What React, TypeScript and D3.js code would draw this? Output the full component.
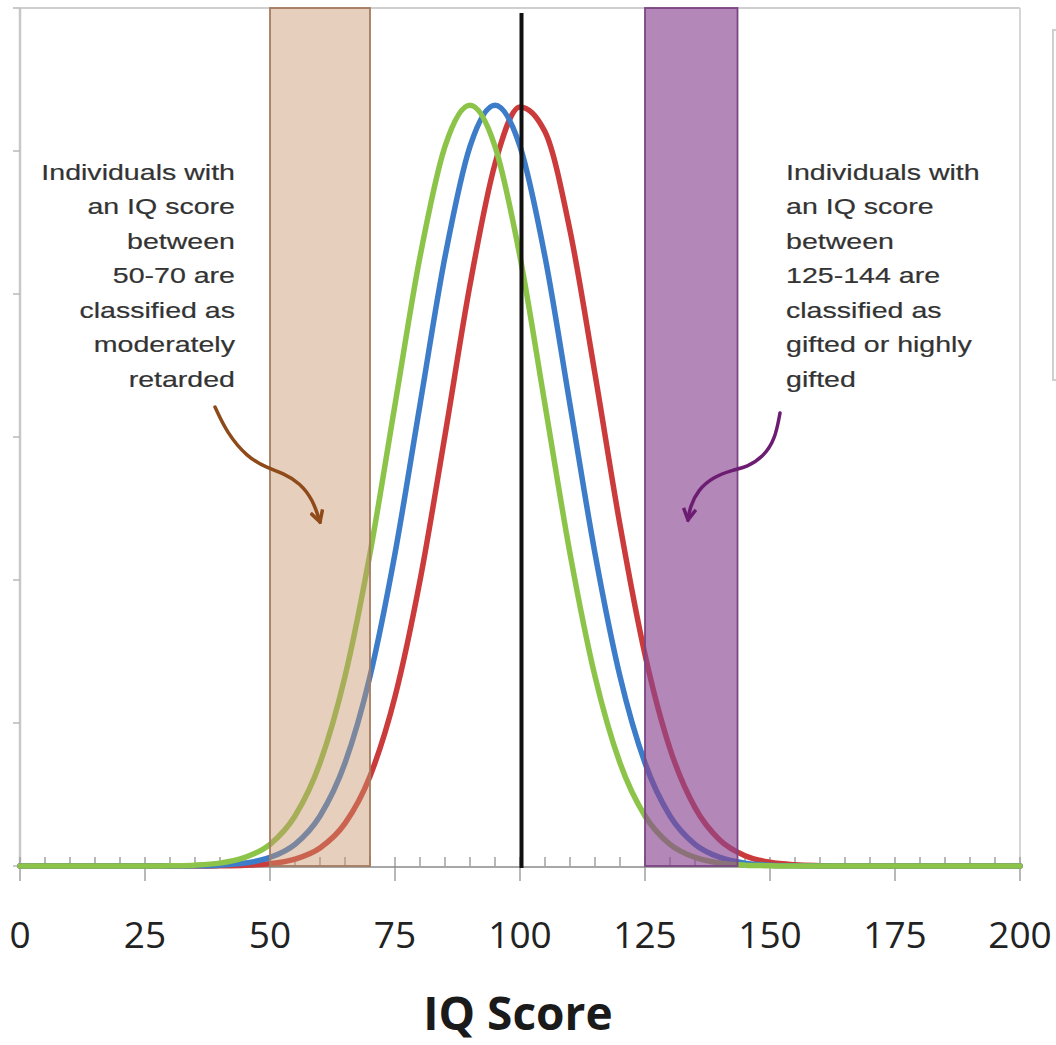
import React from "react";
import { scaleLinear, line, curveMonotoneX, curveBasis, range } from "d3";

// IQ score grid (x) and density for each group
const iqGrid = [
  0, 5, 10, 15, 20, 25, 30, 35, 40, 45, 50, 55, 60, 65, 70, 75, 80, 85, 90, 95, 100,
  105, 110, 115, 120, 125, 130, 135, 140, 145, 150, 155, 160, 165, 170, 175, 180, 185, 190, 195, 200,
];
const greenDensity = [
  0, 0, 0, 0, 0, 0, 0.00001, 0.00003, 0.0001, 0.0003, 0.00076, 0.00175, 0.0036, 0.00663, 0.01093,
  0.01613, 0.0213, 0.02516, 0.0266, 0.02516, 0.0213, 0.01613, 0.01093, 0.00663, 0.0036, 0.00175,
  0.00076, 0.0003, 0.0001, 0.00003, 0.00001, 0, 0, 0, 0, 0, 0, 0, 0, 0, 0,
];
const blueDensity = [
  0, 0, 0, 0, 0, 0, 0, 0.00001, 0.00003, 0.0001, 0.0003, 0.00076, 0.00175, 0.0036, 0.00663,
  0.01093, 0.01613, 0.0213, 0.02516, 0.0266, 0.02516, 0.0213, 0.01613, 0.01093, 0.00663, 0.0036,
  0.00175, 0.00076, 0.0003, 0.0001, 0.00003, 0.00001, 0, 0, 0, 0, 0, 0, 0, 0, 0,
];
const redDensity = [
  0, 0, 0, 0, 0, 0, 0, 0, 0.00001, 0.00003, 0.00008, 0.00024, 0.00063, 0.00149, 0.00314,
  0.00592, 0.00998, 0.01506, 0.02032, 0.02455, 0.02654, 0.02567, 0.02222, 0.0172, 0.01192,
  0.00739, 0.0041, 0.00204, 0.0009, 0.00036, 0.00013, 0.00004, 0.00001, 0, 0, 0, 0, 0, 0, 0, 0,
];

const xTicks = [0, 25, 50, 75, 100, 125, 150, 175, 200];
const yTicks = [0, 0.005, 0.01, 0.015, 0.02, 0.025, 0.03];
const meanLine = 100;
const lowBand = [50, 70];
const highBand = [125, 143.5];

const leftNote = ["Individuals with", "an IQ score", "between", "50-70 are", "classified as", "moderately", "retarded"];
const rightNote = ["Individuals with", "an IQ score", "between", "125-144 are", "classified as", "gifted or highly", "gifted"];
const leftArrow = [
  [39, 0.01605], [41.4, 0.01514], [45.4, 0.0143], [49.4, 0.01392], [52.6, 0.01374],
  [56, 0.01339], [58.6, 0.0128], [60, 0.01203],
];
const rightArrow = [
  [152, 0.01584], [151, 0.0149], [148.6, 0.0143], [145.4, 0.01395], [142.6, 0.01385],
  [138.6, 0.0136], [135.6, 0.01315], [134, 0.01255], [133.6, 0.0121],
];

const W = 1056;
const H = 1045;

const x = scaleLinear().domain([0, 200]).range([20, 1020]);
const y = scaleLinear().domain([0, 0.03]).range([866, 8]);

const curve = line<number>()
  .x((_, i) => x(iqGrid[i]))
  .y(d => y(d))
  .curve(curveMonotoneX);

const arrowLine = line<number[]>()
  .x(d => x(d[0]))
  .y(d => y(d[1]))
  .curve(curveBasis);

const series = [
  { name: "red", values: redDensity, color: "#cc3b3b" },
  { name: "blue", values: blueDensity, color: "#3c7cc8" },
  { name: "green", values: greenDensity, color: "#8cc44a" },
];

function Note({ lines, ax, ay, anchor }) {
  return (
    <g transform={`translate(${x(ax)},${y(ay)}) scale(1.27,1)`}>
      {lines.map((t, i) => (
        <text key={i} x={0} y={i * 34.5} textAnchor={anchor} fontSize={22.5}
          fontFamily="'Liberation Sans', Arial, sans-serif" fill="#333"
          stroke="#333" strokeWidth={0.2}>{t}</text>
      ))}
    </g>
  );
}

export default function App() {
  const minor = range(0, 201, 5);
  return (
    <>
      <style>{`body{margin:0;background:#fff}`}</style>
      <svg width={W} height={H} style={{ display: "block" }}>
        <defs>
          <marker id="headBrown" viewBox="0 0 12 12" refX="10" refY="6" markerWidth="15" markerHeight="15"
            markerUnits="userSpaceOnUse" orient="auto">
            <path d="M1,1 L10,6 L1,11" fill="none" stroke="#8e4a18" strokeWidth={2.8} />
          </marker>
          <marker id="headPurple" viewBox="0 0 12 12" refX="10" refY="6" markerWidth="15" markerHeight="15"
            markerUnits="userSpaceOnUse" orient="auto">
            <path d="M1,1 L10,6 L1,11" fill="none" stroke="#6c1d72" strokeWidth={2.8} />
          </marker>
        </defs>
        <rect width={W} height={H} fill="#fff" />

        {/* plot frame */}
        <line x1={x(0)} x2={x(200)} y1={y(0.03)} y2={y(0.03)} stroke="#cfcfcf" strokeWidth={2} />
        <line x1={x(200)} x2={x(200)} y1={y(0.03)} y2={y(0)} stroke="#d6d6d6" strokeWidth={2} />
        <line x1={x(0)} x2={x(0)} y1={y(0.03)} y2={y(0)} stroke="#c8c8c8" strokeWidth={2.5} />
        {yTicks.map(t => (
          <line key={t} x1={x(0) - 7} x2={x(0)} y1={y(t)} y2={y(t)} stroke="#b8b8b8" strokeWidth={1.5} />
        ))}
        {/* legend box fragment at right edge */}
        <rect x={1053} y={30} width={20} height={350} fill="none" stroke="#cfcfcf" strokeWidth={2} />

        {/* x axis */}
        {minor.map(t => (
          <line key={t} x1={x(t)} x2={x(t)} y1={y(0) - 9}
            y2={t % 25 === 0 ? y(0) + 15 : y(0)} stroke="#a0a0a0" strokeWidth={1.5} />
        ))}
        <line x1={x(0)} x2={x(200)} y1={y(0) + 1} y2={y(0) + 1} stroke="#8a8a8a" strokeWidth={1.5} />

        {/* curves */}
        {series.map(s => (
          <path key={s.name} d={curve(s.values)} fill="none" stroke={s.color} strokeWidth={5.5}
            strokeLinecap="round" strokeLinejoin="round" />
        ))}

        {/* bands */}
        <rect x={x(lowBand[0])} y={y(0.03)} width={x(lowBand[1]) - x(lowBand[0])} height={y(0) - y(0.03)}
          fill="#c8956a" fillOpacity={0.45} stroke="#a57b60" strokeWidth={1.8} />
        <rect x={x(highBand[0])} y={y(0.03)} width={x(highBand[1]) - x(highBand[0])} height={y(0) - y(0.03)}
          fill="#8b4792" fillOpacity={0.65} stroke="#7a4582" strokeWidth={1.8} />

        {/* mean line */}
        <line x1={x(meanLine) + 1.5} x2={x(meanLine) + 1.5} y1={13} y2={y(0) + 2} stroke="#111" strokeWidth={4} />

        {/* annotations */}
        <Note lines={leftNote} ax={43} ay={0.024} anchor="end" />
        <Note lines={rightNote} ax={153.2} ay={0.024} anchor="start" />
        <path d={arrowLine(leftArrow)} fill="none" stroke="#8e4a18" strokeWidth={3.5} strokeLinecap="round"
          markerEnd="url(#headBrown)" />
        <path d={arrowLine(rightArrow)} fill="none" stroke="#6c1d72" strokeWidth={3.5} strokeLinecap="round"
          markerEnd="url(#headPurple)" />

        {/* tick labels */}
        {xTicks.map(t => (
          <text key={t} x={x(t)} y={948} textAnchor="middle" fontSize={37}
            fontFamily="'Open Sans', sans-serif" fill="#222">{t}</text>
        ))}
        <text x={518} y={1030} textAnchor="middle" fontSize={46} fontWeight="bold"
          fontFamily="'Open Sans', sans-serif" fill="#1a1a1a">IQ Score</text>
      </svg>
    </>
  );
}
